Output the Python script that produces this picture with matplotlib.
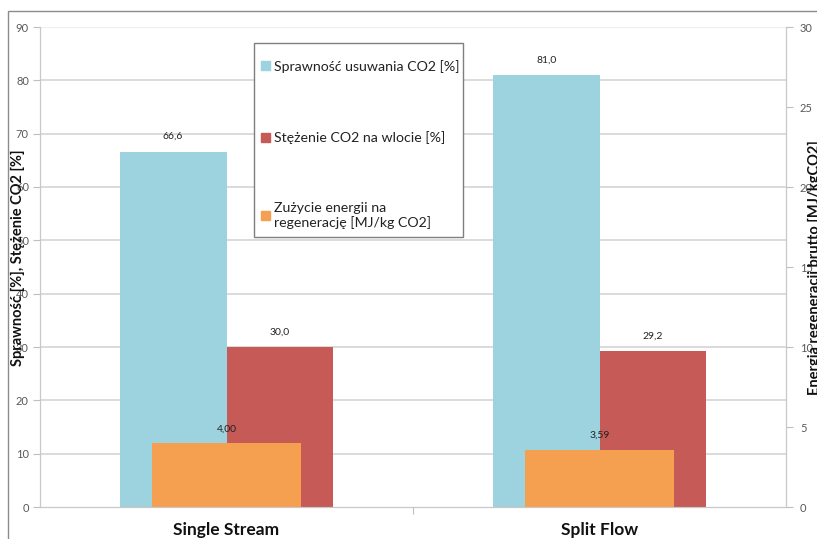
import numpy as np
import matplotlib
matplotlib.use("Agg")
import matplotlib.pyplot as plt
from matplotlib.patches import Rectangle, Patch

categories = ["Single Stream", "Split Flow"]
sprawnosc = [66.6, 81.0]
stezenie = [30.0, 29.2]
energia = [4.00, 3.59]

labels = ["Sprawność usuwania CO2 [%]",
          "Stężenie CO2 na wlocie [%]",
          "Zużycie energii na\nregenerację [MJ/kg CO2]"]

c_blue = "#9dd2df"
c_red = "#c55a56"
c_orange = "#f59f50"
grid_c = "#d4d4d4"
tick_c = "#595959"

plt.rcParams["font.family"] = ["Lato", "DejaVu Sans"]

fig = plt.figure(figsize=(8.17, 5.39), dpi=100)
# outer chart border (cut at the right and bottom edges)
fig.patches.append(Rectangle((8 / 817, -0.1), 1.2, 1 - 11 / 539 + 0.1,
                             transform=fig.transFigure, fill=False,
                             edgecolor="#8c8c8c", linewidth=1.0))

ax = fig.add_axes([40 / 817, 32 / 539, 746 / 817, 480 / 539])
ax2 = ax.twinx()

x = np.arange(len(categories))
w = 0.286
ax.bar(x - w / 2, sprawnosc, w, color=c_blue, zorder=2)
ax.bar(x + w / 2, stezenie, w, color=c_red, zorder=2)
ax2.bar(x, energia, 0.4, color=c_orange, zorder=2)

for xi, v in zip(x, sprawnosc):
    ax.text(xi - w / 2, v + 2, f"{v:.1f}".replace(".", ","), ha="center",
            va="bottom", fontsize=7.5, color="#222222")
for xi, v in zip(x, stezenie):
    ax.text(xi + w / 2, v + 2, f"{v:.1f}".replace(".", ","), ha="center",
            va="bottom", fontsize=7.5, color="#222222")
for xi, v in zip(x, energia):
    ax2.text(xi, v + 0.6, f"{v:.2f}".replace(".", ","), ha="center",
             va="bottom", fontsize=7.5, color="#222222")

ax.set_xlim(-0.5, 1.5)
ax.set_ylim(0, 90)
ax2.set_ylim(0, 30)
ax.set_yticks(np.arange(0, 91, 10))
ax2.set_yticks(np.arange(0, 31, 5))

for yv in range(10, 81, 10):
    ax.axhline(yv, color=grid_c, linewidth=1.2, zorder=0)
ax.axhline(90, color="#f0f0f0", linewidth=1.0, zorder=0)

ax.set_xticks([0.5])
ax.set_xticklabels([""])
ax.tick_params(axis="x", length=5, color="#bfbfbf")
for xi, c in zip(x, categories):
    ax.text(xi, -23 / 480, c, transform=ax.get_xaxis_transform(),
            ha="center", va="center", fontsize=12.5, fontweight="bold",
            color="#111111")

ax.tick_params(axis="y", labelsize=8, labelcolor=tick_c, color="#bfbfbf",
               length=5, pad=3)
ax2.tick_params(axis="y", labelsize=8, labelcolor=tick_c, color="#bfbfbf",
                length=5, pad=5)

for a in (ax, ax2):
    a.spines["top"].set_visible(False)
    for s in ("left", "right", "bottom"):
        a.spines[s].set_color("#c8c8c8")

fig.text(18 / 817, 1 - 258 / 539, "Sprawność [%], Stężenie CO2 [%]",
         rotation=90, ha="center", va="center", fontsize=10.5,
         fontweight="bold", color="#111111")
fig.text(815 / 817, 1 - 268 / 539, "Energia regeneracji brutto [MJ/kgCO2]",
         rotation=90, ha="center", va="center", fontsize=10.5,
         fontweight="bold", color="#111111")

# legend box drawn separately so its padding matches the original
box = Rectangle((254 / 817, 1 - 237 / 539), 209 / 817, 194 / 539,
                transform=fig.transFigure, facecolor="white",
                edgecolor="#7f7f7f", linewidth=1.0, zorder=4, clip_on=False)
ax2.add_artist(box)
handles = [Patch(color=c_blue), Patch(color=c_red), Patch(color=c_orange)]
leg = ax2.legend(handles, labels, loc="upper left",
                 bbox_to_anchor=(261 / 817, 1 - 60 / 539),
                 bbox_transform=fig.transFigure, fontsize=10.2,
                 frameon=False, labelspacing=4.1, handlelength=0.6,
                 handleheight=0.6, handletextpad=0.35, borderpad=0,
                 borderaxespad=0)
leg.set_zorder(6)
for t in leg.get_texts():
    t.set_color("#222222")

fig.savefig("out.png", dpi=100)
